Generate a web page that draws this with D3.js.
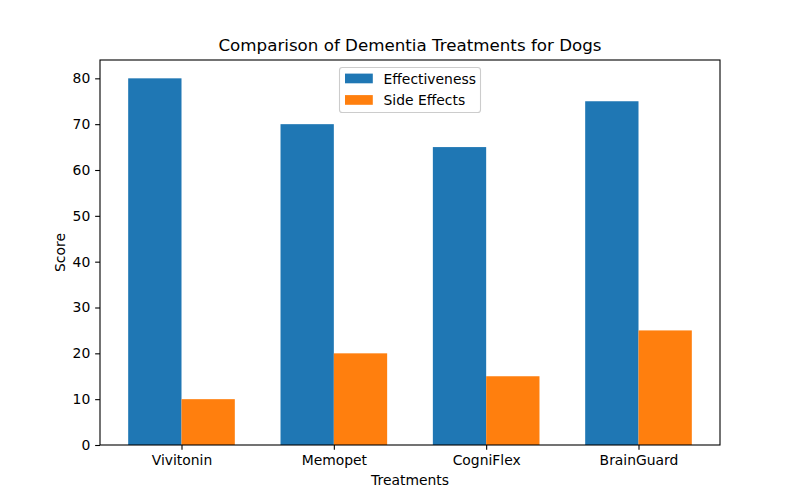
<!DOCTYPE html>
<html><head><meta charset="utf-8">
<script src="https://cdn.jsdelivr.net/npm/d3@7"></script>
<style>body{margin:0;background:#fff}svg{font-family:"DejaVu Sans",sans-serif}</style>
</head><body>
<script>
const categories = ["Vivitonin", "Memopet", "CogniFlex", "BrainGuard"];
const effectiveness = [80, 70, 65, 75];
const sideEffects = [10, 20, 15, 25];
const seriesNames = ["Effectiveness", "Side Effects"];
const colors = ["#1f77b4", "#ff7f0e"];
const yTicks = [0, 10, 20, 30, 40, 50, 60, 70, 80];

const W = 800, H = 500;
const m = {left: 100, right: 720, top: 60, bottom: 445};
const svg = d3.select("body").append("svg").attr("width", W).attr("height", H);

const barW = 0.35;
const x = d3.scaleLinear().domain([-0.535, 3.535]).range([m.left, m.right]);
const y = d3.scaleLinear().domain([0, 84]).range([m.bottom, m.top]);

const series = [effectiveness, sideEffects];
series.forEach((vals, si) => {
  svg.append("g").selectAll("rect").data(vals).enter().append("rect")
    .attr("x", (d, i) => x(i + (si === 0 ? -barW : 0)))
    .attr("width", x(barW) - x(0))
    .attr("y", d => y(d))
    .attr("height", d => y(0) - y(d))
    .attr("fill", colors[si]);
});

const xAxis = d3.axisBottom(x).tickValues(categories.map((c, i) => i)).tickFormat((d) => categories[d]).tickSize(4.86).tickPadding(4.86);
const gx = svg.append("g").attr("transform", `translate(0,${m.bottom})`).call(xAxis);
const yAxis = d3.axisLeft(y).tickValues(yTicks).tickSize(4.86).tickPadding(4.86);
const gy = svg.append("g").attr("transform", `translate(${m.left},0)`).call(yAxis);
[gx, gy].forEach(g => {
  g.select(".domain").remove();
  g.selectAll("text").attr("font-size", 13.9).attr("fill", "#000").attr("font-family", "DejaVu Sans");
  g.selectAll("line").attr("stroke", "#000").attr("stroke-width", 1.1);
});

svg.append("rect").attr("x", m.left).attr("y", m.top).attr("width", m.right - m.left).attr("height", m.bottom - m.top)
  .attr("fill", "none").attr("stroke", "#000").attr("stroke-width", 1.1);

svg.append("text").attr("x", (m.left + m.right) / 2).attr("y", 51).attr("text-anchor", "middle")
  .attr("font-size", 16.7).text("Comparison of Dementia Treatments for Dogs");
svg.append("text").attr("x", (m.left + m.right) / 2).attr("y", 485).attr("text-anchor", "middle")
  .attr("font-size", 13.9).text("Treatments");
svg.append("text").attr("transform", `translate(65,${(m.top + m.bottom) / 2}) rotate(-90)`).attr("text-anchor", "middle")
  .attr("font-size", 13.9).text("Score");

// legend
const lg = svg.append("g");
const lx = 339.5, ly = 67.5, lw = 141, lh = 45;
lg.append("rect").attr("x", lx).attr("y", ly).attr("width", lw).attr("height", lh).attr("rx", 2.8)
  .attr("fill", "#fff").attr("fill-opacity", 0.8).attr("stroke", "#cccccc").attr("stroke-width", 1.1);
seriesNames.forEach((n, i) => {
  const cy = 78.5 + i * 21.5;
  lg.append("rect").attr("x", 345).attr("y", cy - 4.9).attr("width", 27.8).attr("height", 9.7).attr("fill", colors[i]);
  lg.append("text").attr("x", 383.5).attr("y", cy).attr("dy", "0.36em").attr("font-size", 13.9).text(n);
});
</script>
</body></html>
